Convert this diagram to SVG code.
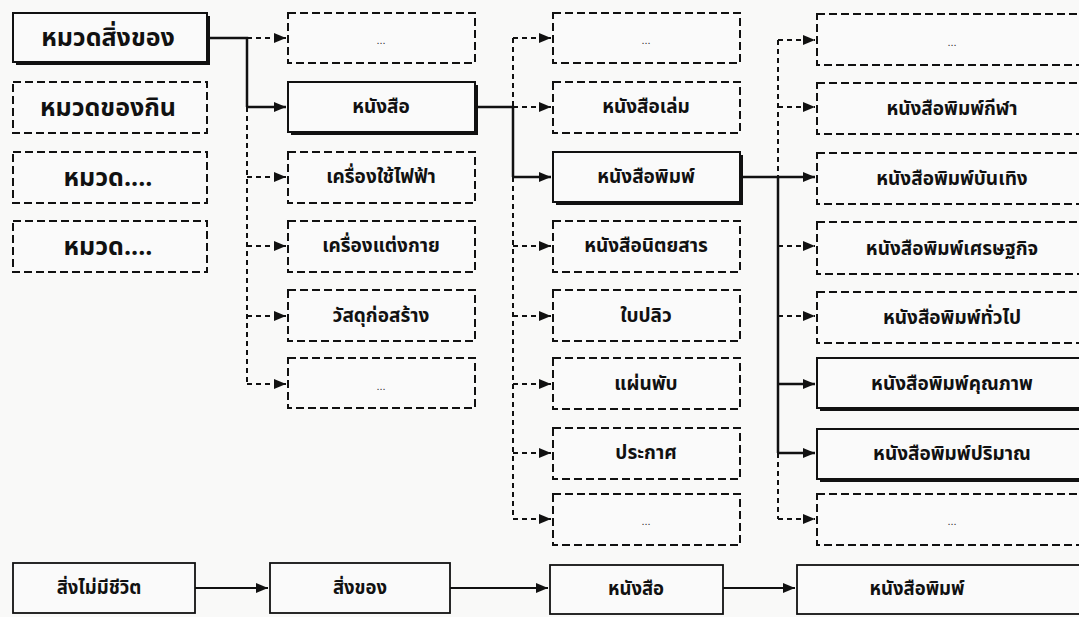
<svg xmlns="http://www.w3.org/2000/svg" width="1079" height="617" viewBox="0 0 1079 617">
<defs>
<style>
.bg{fill:#f9f9f8}
.dbox{fill:#fafafa;stroke:#111;stroke-width:2;stroke-dasharray:8 4}
.sbox{fill:#fafafa;stroke:#111;stroke-width:2}
.shadow{fill:#111}
.plain{fill:#fafafa;stroke:#111;stroke-width:1.8}
.t{font-family:"Noto Sans Thai","Noto Sans","DejaVu Sans",sans-serif;font-weight:bold;fill:#111;text-anchor:middle;dominant-baseline:central}
.t1{font-size:25px}
.t2{font-size:19px}
.tb{font-size:18.5px}
.dots{font-family:"Liberation Sans",sans-serif;font-size:11px;fill:#333;text-anchor:middle;dominant-baseline:central}
.sl{fill:none;stroke:#111;stroke-width:2.5}
.dl{fill:none;stroke:#111;stroke-width:2;stroke-dasharray:5 4}
</style>
<marker id="ah" markerWidth="12" markerHeight="10" refX="12" refY="5" orient="auto" markerUnits="userSpaceOnUse">
<path d="M0,0 L12,5 L0,10 Z" fill="#111"/>
</marker>
</defs>
<rect class="bg" x="0" y="0" width="1079" height="617"/>

<g id="connectors">
<path class="sl" d="M207,38 H247 V107"/>
<path class="sl" d="M247,107 H286" marker-end="url(#ah)"/>
<path class="dl" d="M247,38 H286" marker-end="url(#ah)"/>
<path class="dl" d="M247,107 V384"/>
<path class="dl" d="M247,177 H286" marker-end="url(#ah)"/>
<path class="dl" d="M247,246 H286" marker-end="url(#ah)"/>
<path class="dl" d="M247,316 H286" marker-end="url(#ah)"/>
<path class="dl" d="M247,384 H286" marker-end="url(#ah)"/>
<path class="sl" d="M478,107 H513 V177"/>
<path class="sl" d="M513,177 H551" marker-end="url(#ah)"/>
<path class="dl" d="M513,38 V107"/>
<path class="dl" d="M513,177 V519"/>
<path class="dl" d="M513,38 H551" marker-end="url(#ah)"/>
<path class="dl" d="M513,107 H551" marker-end="url(#ah)"/>
<path class="dl" d="M513,246 H551" marker-end="url(#ah)"/>
<path class="dl" d="M513,316 H551" marker-end="url(#ah)"/>
<path class="dl" d="M513,384 H551" marker-end="url(#ah)"/>
<path class="dl" d="M513,453 H551" marker-end="url(#ah)"/>
<path class="dl" d="M513,519 H551" marker-end="url(#ah)"/>
<path class="sl" d="M743,177 H815" marker-end="url(#ah)"/>
<path class="sl" d="M778,177 V453"/>
<path class="sl" d="M778,384 H815" marker-end="url(#ah)"/>
<path class="sl" d="M778,453 H815" marker-end="url(#ah)"/>
<path class="dl" d="M778,40 V177"/>
<path class="dl" d="M778,453 V519"/>
<path class="dl" d="M778,40 H815" marker-end="url(#ah)"/>
<path class="dl" d="M778,107 H815" marker-end="url(#ah)"/>
<path class="dl" d="M778,246 H815" marker-end="url(#ah)"/>
<path class="dl" d="M778,316 H815" marker-end="url(#ah)"/>
<path class="dl" d="M778,519 H815" marker-end="url(#ah)"/>
<path class="sl" style="stroke-width:2" d="M195,588 H268" marker-end="url(#ah)"/>
<path class="sl" style="stroke-width:2" d="M450,588 H548" marker-end="url(#ah)"/>
<path class="sl" style="stroke-width:2" d="M723,588 H795" marker-end="url(#ah)"/>
</g>

<g id="c1-1"><rect class="shadow" x="16" y="16" width="194" height="49"/><rect class="sbox" x="13" y="13" width="194" height="49"/><text class="t t1" x="108" y="38">หมวดสิ่งของ</text></g>
<g id="c1-2"><rect class="dbox" x="13" y="82" width="194" height="51"/><text class="t t1" x="108" y="108">หมวดของกิน</text></g>
<g id="c1-3"><rect class="dbox" x="13" y="152" width="194" height="51"/><text class="t t1" x="108" y="178">หมวด....</text></g>
<g id="c1-4"><rect class="dbox" x="13" y="221" width="194" height="51"/><text class="t t1" x="108" y="247">หมวด....</text></g>

<g id="c2-1"><rect class="dbox" x="288" y="13" width="187" height="50"/><text class="dots" x="381" y="40">...</text></g>
<g id="c2-2"><rect class="shadow" x="291" y="85" width="187" height="50"/><rect class="sbox" x="288" y="82" width="187" height="50"/><text class="t t2" x="381" y="107">หนังสือ</text></g>
<g id="c2-3"><rect class="dbox" x="288" y="152" width="187" height="51"/><text class="t t2" x="381" y="177">เครื่องใช้ไฟฟ้า</text></g>
<g id="c2-4"><rect class="dbox" x="288" y="221" width="187" height="51"/><text class="t t2" x="381" y="246">เครื่องแต่งกาย</text></g>
<g id="c2-5"><rect class="dbox" x="288" y="290" width="187" height="51"/><text class="t t2" x="381" y="316">วัสดุก่อสร้าง</text></g>
<g id="c2-6"><rect class="dbox" x="288" y="358" width="187" height="50"/><text class="dots" x="381" y="386">...</text></g>

<g id="c3-1"><rect class="dbox" x="553" y="13" width="187" height="50"/><text class="dots" x="646" y="40">...</text></g>
<g id="c3-2"><rect class="dbox" x="553" y="82" width="187" height="51"/><text class="t t2" x="646" y="107">หนังสือเล่ม</text></g>
<g id="c3-3"><rect class="shadow" x="556" y="155" width="187" height="50"/><rect class="sbox" x="553" y="152" width="187" height="50"/><text class="t t2" x="646" y="177">หนังสือพิมพ์</text></g>
<g id="c3-4"><rect class="dbox" x="553" y="221" width="187" height="51"/><text class="t t2" x="646" y="246">หนังสือนิตยสาร</text></g>
<g id="c3-5"><rect class="dbox" x="553" y="290" width="187" height="51"/><text class="t t2" x="646" y="316">ใบปลิว</text></g>
<g id="c3-6"><rect class="dbox" x="553" y="358" width="187" height="51"/><text class="t t2" x="646" y="384">แผ่นพับ</text></g>
<g id="c3-7"><rect class="dbox" x="553" y="428" width="187" height="51"/><text class="t t2" x="646" y="453">ประกาศ</text></g>
<g id="c3-8"><rect class="dbox" x="553" y="494" width="187" height="51"/><text class="dots" x="646" y="521">...</text></g>

<g id="c4-1"><rect class="dbox" x="817" y="14" width="270" height="51"/><text class="dots" x="952" y="42">...</text></g>
<g id="c4-2"><rect class="dbox" x="817" y="83" width="270" height="51"/><text class="t t2" x="952" y="109">หนังสือพิมพ์กีฬา</text></g>
<g id="c4-3"><rect class="dbox" x="817" y="153" width="270" height="51"/><text class="t t2" x="952" y="179">หนังสือพิมพ์บันเทิง</text></g>
<g id="c4-4"><rect class="dbox" x="817" y="222" width="270" height="52"/><text class="t t2" x="952" y="249">หนังสือพิมพ์เศรษฐกิจ</text></g>
<g id="c4-5"><rect class="dbox" x="817" y="292" width="270" height="51"/><text class="t t2" x="952" y="318">หนังสือพิมพ์ทั่วไป</text></g>
<g id="c4-6"><rect class="shadow" x="820" y="361" width="270" height="50"/><rect class="sbox" x="817" y="358" width="270" height="50"/><text class="t t2" x="952" y="384">หนังสือพิมพ์คุณภาพ</text></g>
<g id="c4-7"><rect class="shadow" x="820" y="432" width="270" height="50"/><rect class="sbox" x="817" y="429" width="270" height="50"/><text class="t t2" x="952" y="454">หนังสือพิมพ์ปริมาณ</text></g>
<g id="c4-8"><rect class="dbox" x="817" y="494" width="270" height="51"/><text class="dots" x="952" y="521">...</text></g>

<g id="b1"><rect class="plain" x="13" y="563" width="182" height="50"/><text class="t tb" x="99" y="588">สิ่งไม่มีชีวิต</text></g>
<g id="b2"><rect class="plain" x="270" y="563" width="180" height="50"/><text class="t tb" x="360" y="588">สิ่งของ</text></g>
<g id="b3"><rect class="plain" x="550" y="565" width="173" height="49"/><text class="t tb" x="636" y="589">หนังสือ</text></g>
<g id="b4"><rect class="plain" x="797" y="565" width="290" height="49"/><text class="t tb" x="917" y="589">หนังสือพิมพ์</text></g>
</svg>
